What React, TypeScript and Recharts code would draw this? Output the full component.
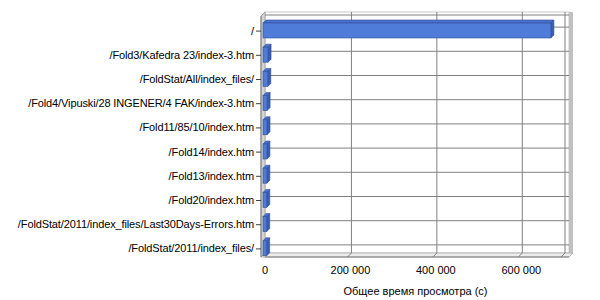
import { BarChart, Bar, XAxis, YAxis, CartesianGrid } from "recharts";

const pages = [
  "/",
  "/Fold3/Kafedra 23/index-3.htm",
  "/FoldStat/All/index_files/",
  "/Fold4/Vipuski/28 INGENER/4 FAK/index-3.htm",
  "/Fold11/85/10/index.htm",
  "/Fold14/index.htm",
  "/Fold13/index.htm",
  "/Fold20/index.htm",
  "/FoldStat/2011/index_files/Last30Days-Errors.htm",
  "/FoldStat/2011/index_files/",
];
const viewTime = [674000, 11800, 11200, 9600, 9400, 9200, 9000, 8800, 8700, 8500];
const xTicks = [0, 200000, 400000, 600000];
const xTitle = "Общее время просмотра (с)";

const data = pages.map((name, i) => ({ name, value: viewTime[i] }));

// chart frame
const W = 600;
const H = 300;
const M = { top: 15, right: 35, bottom: 0, left: 0 };
const Y_W = 266;
const X_H = 43;
const PLOT_X = M.left + Y_W;
const PLOT_Y = M.top;
const PLOT_W = W - PLOT_X - M.right;
const PLOT_H = H - M.top - X_H;

// fake 3d walls, front plane is shifted by D to the lower left
const D = 4;
const BAR_D = 3;
const WALL = { x0: PLOT_X - 1, x1: PLOT_X + PLOT_W + 4, y0: PLOT_Y - 3, y1: PLOT_Y + PLOT_H - 4 };
const FONT = "'Liberation Sans', Arial, sans-serif";

const Walls = () => {
  const { x0, x1, y0, y1 } = WALL;
  return (
    <svg width={W} height={H} style={{ position: "absolute", left: 0, top: 0 }}>
      <rect x={x0} y={y0} width={x1 - x0} height={y1 - y0} fill="#fff" stroke="#c8c8c8" />
      <rect x={x1} y={y0} width={D} height={y1 - y0} fill="#c0c0c0" />
      <polygon
        points={`${x0},${y1} ${x1 + D},${y1} ${x1},${y1 + D} ${x0 - D},${y1 + D}`}
        fill="#ececec" stroke="#b4b4b4"
      />
      <polygon
        points={`${x0 - D},${y0 + D} ${x0},${y0} ${x0},${y1} ${x0 - D},${y1 + D}`}
        fill="#d4d4d4" stroke="#a8a8a8"
      />
      <line x1={x0 - D} y1={y0 + D} x2={x0 - D} y2={y1 + D} stroke="#808080" />
    </svg>
  );
};

const Box = (props: any) => {
  const { x, y, width, height } = props;
  if (width == null || height == null) return null;
  const d = BAR_D;
  return (
    <g stroke="#2f4f9a" strokeWidth={0.6}>
      <polygon points={`${x - d},${y + d} ${x},${y} ${x + width},${y} ${x + width - d},${y + d}`} fill="#4a71cc" />
      <polygon
        points={`${x + width - d},${y + d} ${x + width},${y} ${x + width},${y + height} ${x + width - d},${y + height + d}`}
        fill="#3b5cb0"
      />
      <rect x={x - d} y={y + d} width={width} height={height} fill="#4f7bd9" />
    </g>
  );
};

const VLine = (props: any) => {
  const x = props.x1;
  if (x <= PLOT_X + 1) return <g />;
  return (
    <polyline
      points={`${x},${WALL.y0} ${x},${WALL.y1} ${x - D},${WALL.y1 + D}`}
      fill="none" stroke="#808080"
    />
  );
};

const HLine = (props: any) => (
  <line x1={WALL.x0} x2={WALL.x1} y1={props.y1} y2={props.y1} stroke="#808080" />
);

const PageTick = (props: any) => {
  const { x, y, payload } = props;
  const ax = x - 1 - D;
  return (
    <g>
      <line x1={ax - 5} x2={ax} y1={y + D} y2={y + D} stroke="#404040" />
      <text
        x={ax - 7} y={y + D} dy={3.5} textAnchor="end"
        fontSize={11} letterSpacing={-0.12} fontFamily={FONT} fill="#000"
      >
        {payload.value}
      </text>
    </g>
  );
};

const fmt = (v: number) => (v === 0 ? "0" : v.toLocaleString("ru-RU").replace(/\s/g, " "));

const TimeTick = (props: any) => {
  const { x, y, payload } = props;
  return (
    <text x={x - 1} y={y + D} dy={13} textAnchor="middle" fontSize={11} fontFamily={FONT} fill="#000">
      {fmt(payload.value)}
    </text>
  );
};

export default function App() {
  return (
    <div style={{ position: "absolute", left: 0, top: 0, width: W, height: H, background: "#fff" }}>
      <Walls />
      <div style={{ position: "absolute", left: 0, top: 0 }}>
        <BarChart width={W} height={H} data={data} layout="vertical" margin={M}>
          <CartesianGrid horizontal={HLine} vertical={VLine} />
          <XAxis
            type="number"
            domain={[0, 700000]}
            ticks={xTicks}
            height={X_H}
            axisLine={false}
            tickLine={false}
            tickSize={0}
            tickMargin={0}
            tick={TimeTick}
            interval={0}
            label={{ value: xTitle, position: "insideBottom", offset: 5, fontSize: 11, fontFamily: FONT, fill: "#000" }}
          />
          <YAxis
            type="category"
            dataKey="name"
            width={Y_W}
            axisLine={false}
            tickLine={false}
            tickSize={0}
            tickMargin={0}
            tick={PageTick}
            interval={0}
          />
          <Bar dataKey="value" barSize={15} shape={Box} isAnimationActive={false} />
        </BarChart>
      </div>
    </div>
  );
}
